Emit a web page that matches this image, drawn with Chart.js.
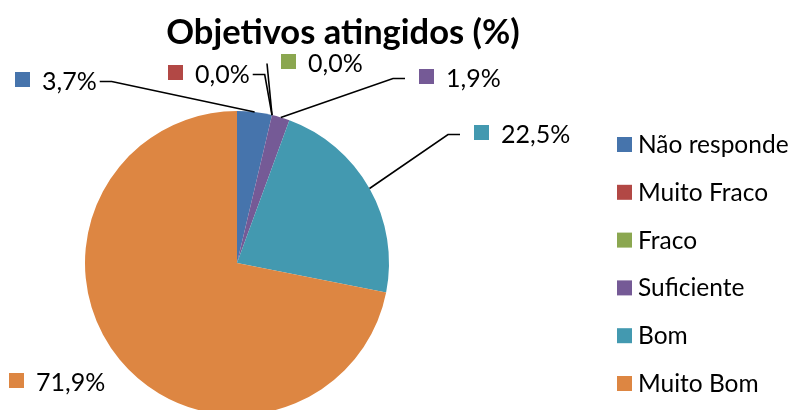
<!DOCTYPE html>
<html>
<head>
<meta charset="utf-8">
<script src="https://cdn.jsdelivr.net/npm/chart.js@4.4.1/dist/chart.umd.min.js"></script>
<style>
    html, body { margin: 0; padding: 0; background: #fff; }
    #wrap { width: 790px; height: 410px; }
</style>
</head>
<body>
<div id="wrap"><canvas id="grafico" width="790" height="410"></canvas></div>
<script>
const categorias = ['Não responde', 'Muito Fraco', 'Fraco', 'Suficiente', 'Bom', 'Muito Bom'];
const percentagens = [3.7, 0.0, 0.0, 1.9, 22.5, 71.9];
const cores = ['#4674AC', '#B24845', '#8BA750', '#755A96', '#4399B0', '#DD8642'];
const titulo = 'Objetivos atingidos (%)';

// where each data label box sits (marker top-left); purely layout
const posRotulos = [
    { x: 15, y: 72, lado: 'esq' },
    { x: 168, y: 65, lado: 'esq' },
    { x: 281, y: 54, lado: 'dir' },
    { x: 419, y: 69, lado: 'dir' },
    { x: 474, y: 125, lado: 'dir' },
    { x: 9, y: 373, lado: 'nada' }
];

const FONTE = 'Lato, "Open Sans", sans-serif';

// ################################################################################################
const desenhoExtra = {
    id: 'desenhoExtra',
    afterDraw(chart) {
        const ctx = chart.ctx;
        const meta = chart.getDatasetMeta(0);
        ctx.save();

        // titulo
        ctx.fillStyle = '#000';
        ctx.font = 'bold 34.5px ' + FONTE;
        ctx.textAlign = 'center';
        ctx.textBaseline = 'middle';
        ctx.fillText(titulo, 343, 33);

        // legenda
        ctx.font = '24.5px ' + FONTE;
        ctx.textAlign = 'left';
        for (let i = 0; i < categorias.length; i++) {
            const cy = 144 + i * 47.8;
            ctx.fillStyle = cores[i];
            ctx.fillRect(617, cy - 7, 15, 15);
            ctx.fillStyle = '#000';
            ctx.fillText(categorias[i], 638, cy + 1);
        }

        // rotulos e linhas de chamada
        for (let i = 0; i < percentagens.length; i++) {
            const p = posRotulos[i];
            const txt = percentagens[i].toFixed(1).replace('.', ',') + '%';
            const cy = p.y + 7.5;
            ctx.fillStyle = cores[i];
            ctx.fillRect(p.x, p.y, 15, 15);
            ctx.fillStyle = '#000';
            ctx.font = '25px ' + FONTE;
            ctx.fillText(txt, p.x + 27, cy + 2);
            const largura = ctx.measureText(txt).width;

            const arco = meta.data[i];
            const meio = (arco.startAngle + arco.endAngle) / 2;
            const fimX = arco.x + Math.cos(meio) * arco.outerRadius;
            const fimY = arco.y + Math.sin(meio) * arco.outerRadius;

            if (p.lado === 'nada') continue;
            ctx.strokeStyle = '#000';
            ctx.lineWidth = 1.6;
            ctx.beginPath();
            if (p.lado === 'esq') {
                const x0 = p.x + 27 + largura + 3;
                const y0 = cy + 2;
                ctx.moveTo(x0, y0);
                if (fimX > x0 + 12) ctx.lineTo(x0 + 12, y0);
                ctx.lineTo(fimX, fimY);
            } else {
                const x0 = p.x - 14;
                const y0 = cy + 2;
                ctx.moveTo(x0, y0);
                if (fimX < x0 - 12) ctx.lineTo(x0 - 12, y0);
                ctx.lineTo(fimX, fimY);
            }
            ctx.stroke();
        }
        ctx.restore();
    }
};

new Chart(document.getElementById('grafico'), {
    type: 'pie',
    data: {
        labels: categorias,
        datasets: [{
            data: percentagens,
            backgroundColor: cores,
            borderWidth: 0,
            hoverOffset: 0,
            hoverBorderWidth: 0
        }]
    },
    options: {
        responsive: false,
        animation: false,
        radius: 152,
        layout: {
            padding: { left: 85, right: 401, top: 116, bottom: 0 }
        },
        plugins: {
            legend: { display: false },
            title: { display: false },
            tooltip: { enabled: false }
        }
    },
    plugins: [desenhoExtra]
});
</script>
</body>
</html>
